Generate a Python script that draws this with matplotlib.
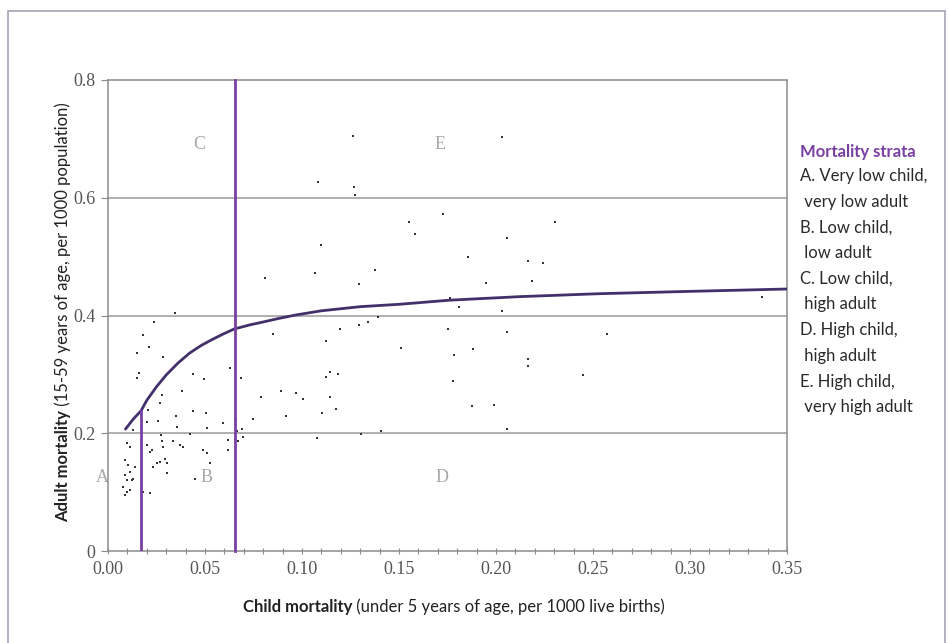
import matplotlib
matplotlib.use("Agg")
import matplotlib.pyplot as plt
from matplotlib.patches import Rectangle

# Country points: child mortality (x) vs adult mortality (y)
child_mort = [
    0.0276, 0.0268, 0.0207, 0.0350, 0.0436, 0.0504, 0.0199, 0.0259, 0.0357, 0.0508,
    0.0593, 0.0130, 0.0273, 0.0422, 0.0096, 0.0113, 0.0199, 0.0225, 0.0276, 0.0285,
    0.0336, 0.0371, 0.0388, 0.0490, 0.0508, 0.0619, 0.0619, 0.0696, 0.0087, 0.0104,
    0.0113, 0.0087, 0.0096, 0.0122, 0.0079, 0.0096, 0.0087, 0.0113, 0.0130, 0.0139,
    0.0216, 0.0233, 0.0251, 0.0268, 0.0293, 0.0302, 0.0302, 0.0448, 0.0525, 0.0216,
    0.0182, 0.0345, 0.0237, 0.0179, 0.0213, 0.0148, 0.0285, 0.0161, 0.0148, 0.0436,
    0.0494, 0.0628, 0.0379, 0.0791, 0.0894, 0.0971, 0.1005, 0.1143, 0.0851, 0.1126,
    0.1185, 0.1126, 0.1143, 0.0920, 0.1105, 0.1174, 0.1194, 0.1077, 0.0748, 0.1082,
    0.1266, 0.1271, 0.1554, 0.1584, 0.1726, 0.1096, 0.2055, 0.1854, 0.0808, 0.1065,
    0.1374, 0.1292, 0.1949, 0.1765, 0.1808, 0.2029, 0.1292, 0.1340, 0.1391, 0.1512,
    0.1752, 0.1884, 0.1786, 0.2055, 0.1777, 0.1875, 0.1988, 0.1306, 0.1409, 0.2057,
    0.2031, 0.2306, 0.2163, 0.2240, 0.2186, 0.3370, 0.2570, 0.2163, 0.2163, 0.2450,
    0.1263, 0.0662, 0.0666, 0.0693, 0.0671, 0.0683,
]
adult_mort = [
    0.265, 0.251, 0.239, 0.230, 0.238, 0.235, 0.219, 0.221, 0.211, 0.209,
    0.218, 0.206, 0.197, 0.198, 0.183, 0.177, 0.180, 0.172, 0.186, 0.177,
    0.186, 0.180, 0.177, 0.172, 0.166, 0.189, 0.172, 0.194, 0.155, 0.146,
    0.135, 0.129, 0.121, 0.121, 0.109, 0.101, 0.095, 0.104, 0.123, 0.143,
    0.169, 0.143, 0.149, 0.152, 0.157, 0.149, 0.132, 0.123, 0.149, 0.099,
    0.101, 0.405, 0.389, 0.367, 0.347, 0.336, 0.329, 0.303, 0.293, 0.301,
    0.292, 0.310, 0.272, 0.261, 0.271, 0.268, 0.259, 0.262, 0.369, 0.356,
    0.301, 0.295, 0.304, 0.229, 0.234, 0.242, 0.377, 0.192, 0.224, 0.626,
    0.618, 0.605, 0.559, 0.538, 0.572, 0.520, 0.531, 0.500, 0.464, 0.473,
    0.478, 0.453, 0.456, 0.430, 0.414, 0.408, 0.384, 0.389, 0.398, 0.344,
    0.377, 0.343, 0.333, 0.372, 0.289, 0.247, 0.248, 0.199, 0.203, 0.207,
    0.704, 0.559, 0.493, 0.490, 0.459, 0.431, 0.369, 0.326, 0.314, 0.299,
    0.705, 0.225, 0.203, 0.208, 0.186, 0.293,
]

# Fitted boundary curve between strata
curve_x = [0.009, 0.013, 0.017, 0.020, 0.025, 0.030, 0.036, 0.042, 0.048, 0.053,
           0.059, 0.065, 0.073, 0.080, 0.088, 0.097, 0.110, 0.130, 0.150, 0.176,
           0.212, 0.253, 0.300, 0.350]
curve_y = [0.207, 0.224, 0.238, 0.256, 0.279, 0.299, 0.319, 0.336, 0.349, 0.358,
           0.368, 0.377, 0.384, 0.389, 0.395, 0.401, 0.408, 0.415, 0.419, 0.426,
           0.432, 0.437, 0.441, 0.445]

# Child-mortality cut-offs
low_cut = 0.017
high_cut = 0.0654
low_cut_top = 0.238

x_ticks = [0.00, 0.05, 0.10, 0.15, 0.20, 0.25, 0.30, 0.35]
x_tick_labels = ["0.00", "0.05", "0.10", "0.15", "0.20", "0.25", "0.30", "0.35"]
y_ticks = [0, 0.2, 0.4, 0.6, 0.8]
y_tick_labels = ["0", "0.2", "0.4", "0.6", "0.8"]

region_labels = ["A", "B", "C", "D", "E"]
region_x = [-0.003, 0.051, 0.047, 0.172, 0.171]
region_y = [0.124, 0.124, 0.69, 0.124, 0.69]

legend_title = "Mortality strata"
legend_lines = ["A. Very low child,", " very low adult", "B. Low child,", " low adult",
                "C. Low child,", " high adult", "D. High child,", " high adult",
                "E. High child,", " very high adult"]

SANS = ["Lato", "DejaVu Sans"]
SERIF = ["Liberation Serif", "DejaVu Serif"]
PURPLE = "#7a3fa3"
CURVE = "#43306a"

W, H = 948, 643
fig = plt.figure(figsize=(W / 100, H / 100), dpi=100)
fig.patch.set_facecolor("white")

# Outer frame of the panel
fig.patches.append(Rectangle((8 / W, -0.05), 937 / W, 1.05 - 11 / H,
                             transform=fig.transFigure, fill=False,
                             edgecolor="#a9a2b6", lw=1.2))

ax = fig.add_axes([108 / W, 1 - 551 / H, (787 - 108) / W, (551 - 80) / H])
ax.set_xlim(0, 0.35)
ax.set_ylim(0, 0.8)

for gy in [0.2, 0.4, 0.6]:
    ax.axhline(gy, color="#9a9a9a", lw=1.1, zorder=1)

for side in ["left", "right", "top", "bottom"]:
    ax.spines[side].set_color("#8c8c8c")
    ax.spines[side].set_linewidth(1.1)

ax.scatter(child_mort, adult_mort, s=4, color="#333333", marker="s",
           linewidths=0, zorder=3)

ax.plot(curve_x, curve_y, color=CURVE, lw=2.0, zorder=4, solid_capstyle="round")
ax.plot([low_cut, low_cut], [0, low_cut_top], color=PURPLE, lw=2.0, zorder=4)
ax.plot([high_cut, high_cut], [0, 0.8], color=PURPLE, lw=2.0, zorder=4,
        clip_on=False)

for lab, rx, ry in zip(region_labels, region_x, region_y):
    ax.text(rx, ry, lab, family=SERIF, fontsize=13, color="#a8a8a8",
            ha="center", va="center", zorder=2, clip_on=False)

ax.set_xticks(x_ticks)
ax.set_xticklabels(x_tick_labels, family=SERIF, fontsize=13, color="#555555")
ax.set_xticks([i / 100 for i in range(36)], minor=True)
ax.set_yticks(y_ticks)
ax.set_yticklabels(y_tick_labels, family=SERIF, fontsize=13, color="#555555")
ax.tick_params(axis="x", which="both", direction="inout", length=5, width=0.8,
               color="#8c8c8c", pad=5)
ax.tick_params(axis="y", which="both", direction="out", length=5, width=0.8,
               color="#8c8c8c", pad=4)

fig.canvas.draw()
renderer = fig.canvas.get_renderer()

# X-axis title: bold lead followed by a plain qualifier
xb = fig.text(0, 0, "Child mortality", family=SANS, fontsize=12, weight="bold",
              color="#222222", ha="left", va="center")
xn = fig.text(0, 0, " (under 5 years of age, per 1000 live births)", family=SANS,
              fontsize=12, color="#222222", ha="left", va="center")
wb = xb.get_window_extent(renderer).width
wn = xn.get_window_extent(renderer).width
x0 = 454 - (wb + wn) / 2
yx = 1 - 607 / H
xb.set_position((x0 / W, yx))
xn.set_position(((x0 + wb) / W, yx))

# Y-axis title, rotated
yb = fig.text(0, 0, "Adult mortality", family=SANS, fontsize=12, weight="bold",
              color="#222222", rotation=90, ha="center", va="bottom")
yn = fig.text(0, 0, " (15-59 years of age, per 1000 population)", family=SANS,
              fontsize=12, color="#222222", rotation=90, ha="center", va="bottom")
hb = yb.get_window_extent(renderer).height
hn = yn.get_window_extent(renderer).height
ycenter = 643 - 312
y0 = ycenter - (hb + hn) / 2
yb.set_position((63 / W, y0 / H))
yn.set_position((63 / W, (y0 + hb) / H))

# Strata legend
fig.text(800 / W, 1 - 152 / H, legend_title, family=SANS, fontsize=12,
         weight="bold", color=PURPLE, ha="left", va="center")
for i, line in enumerate(legend_lines):
    fig.text(800 / W, 1 - (176 + 25.7 * i) / H, line, family=SANS, fontsize=12,
             color="#2a2a2a", ha="left", va="center")

fig.savefig("out.png", dpi=100, facecolor="white")
